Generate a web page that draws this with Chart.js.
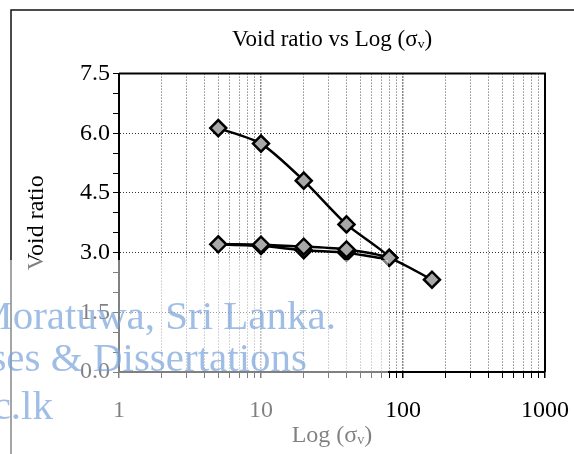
<!DOCTYPE html>
<html>
<head>
<meta charset="utf-8">
<script src="https://cdn.jsdelivr.net/npm/chart.js@4.4.1/dist/chart.umd.min.js"></script>
<style>
  html, body { margin: 0; padding: 0; background: #fff; }
  #wrap { width: 574px; height: 454px; position: relative; }
</style>
</head>
<body>
<div id="wrap"><canvas id="voidChart" width="574" height="454"></canvas></div>
<script>
// consolidation test: load 5 -> 80, unload to 5, reload to 80, then 160
const stress = [5, 10, 20, 40, 80, 40, 20, 10, 5, 10, 20, 40, 80, 160];
const voidRatio = [6.13, 5.74, 4.81, 3.71, 2.87, 3.0, 3.06, 3.17, 3.21, 3.2, 3.15, 3.08, 2.87, 2.32];

const xLabels = [1, 10, 100, 1000];
const yLabels = [0, 1.5, 3.0, 4.5, 6.0, 7.5];
const yMinorStep = 0.5;

const serif = "'Liberation Serif', 'Times New Roman', serif";

// minor positions on the log axis: 1..9 in each decade
const xTickValues = [];
for (let d = 1; d < 1000; d *= 10) {
  for (let k = 1; k < 10; k++) xTickValues.push(k * d);
}
xTickValues.push(1000);
const yTickValues = [];
for (let v = 0; v <= 7.5 + 1e-9; v += yMinorStep) yTickValues.push(Math.round(v * 10) / 10);

const isYMajor = (v) => yLabels.some((l) => Math.abs(l - v) < 1e-6);

const points = stress.map((s, i) => ({ x: s, y: voidRatio[i] }));

const framePlugin = {
  id: "frame",
  beforeDraw(chart) {
    const ctx = chart.ctx;
    ctx.save();
    ctx.strokeStyle = "#111";
    ctx.lineWidth = 1.5;
    ctx.beginPath();
    ctx.moveTo(11, 454);
    ctx.lineTo(11, 10);
    ctx.lineTo(574, 10);
    ctx.stroke();
    ctx.restore();
  },
  afterDatasetsDraw(chart) {
    const { ctx, chartArea } = chart;
    ctx.save();
    ctx.strokeStyle = "#000";
    ctx.lineWidth = 2;
    ctx.beginPath();
    ctx.moveTo(chartArea.left, chartArea.top);
    ctx.lineTo(chartArea.right, chartArea.top);
    ctx.lineTo(chartArea.right, chartArea.bottom);
    ctx.stroke();
    ctx.restore();
  },
  afterDraw(chart) {
    const ctx = chart.ctx;
    ctx.save();
    // faded box behind the watermark
    ctx.fillStyle = "rgba(255,255,255,0.5)";
    ctx.fillRect(0, 260, 388, 194);
    ctx.fillStyle = "rgba(120,162,218,0.7)";
    ctx.font = "41px " + serif;
    ctx.textAlign = "right";
    ctx.fillText("Moratuwa, Sri Lanka.", 336, 329);
    ctx.fillText("ses & Dissertations", 307, 371);
    ctx.fillText("c.lk", 53, 419);
    ctx.restore();
  },
};

const voidCtx = document.getElementById("voidChart").getContext("2d");
const voidChart = new Chart(voidCtx, {
  type: "scatter",
  data: {
    datasets: [
      {
        label: "Void ratio",
        data: points,
        showLine: true,
        tension: 0.25,
        borderColor: "#000",
        borderWidth: 2.5,
        pointStyle: "rectRot",
        pointRadius: 8,
        pointHoverRadius: 8,
        pointBackgroundColor: "#a8a8a8",
        pointBorderColor: "#000",
        pointBorderWidth: 2.5,
      },
    ],
  },
  options: {
    responsive: false,
    animation: false,
    devicePixelRatio: 1,
    layout: { padding: { left: 0, right: 29, top: 0, bottom: 0 } },
    plugins: {
      legend: { display: false },
      tooltip: { enabled: false },
      title: {
        display: true,
        fullSize: false,
        text: "Void ratio vs Log (σᵥ)",
        color: "#000",
        font: { family: serif, size: 23, weight: "normal" },
        padding: { top: 26, bottom: 20 },
      },
    },
    scales: {
      x: {
        type: "logarithmic",
        min: 1,
        max: 1000,
        afterBuildTicks: (axis) => {
          axis.ticks = xTickValues.map((v) => ({ value: v }));
        },
        afterFit: (axis) => {
          axis.height = 82;
          axis.paddingLeft = 0;
          axis.paddingRight = 0;
        },
        ticks: {
          autoSkip: false,
          maxRotation: 0,
          padding: 18,
          color: "#000",
          font: { family: serif, size: 24 },
          callback: (value) => (xLabels.includes(value) ? String(value) : ""),
        },
        grid: {
          color: (c) => (c.tick && xLabels.includes(c.tick.value) ? "#111" : "#555"),
          lineWidth: (c) => (c.tick && xLabels.includes(c.tick.value) ? 1.5 : 1),
          tickColor: "#000",
          tickLength: 6,
          tickBorderDash: [],
        },
        border: { display: true, color: "#000", width: 2, dash: [1, 2] },
        title: {
          display: true,
          text: "Log (σᵥ)",
          color: "#000",
          font: { family: serif, size: 24 },
          padding: { top: 0, bottom: 4 },
        },
      },
      y: {
        min: 0,
        max: 7.5,
        afterBuildTicks: (axis) => {
          axis.ticks = yTickValues.map((v) => ({ value: v }));
        },
        afterFit: (axis) => {
          axis.width = 119;
        },
        ticks: {
          autoSkip: false,
          padding: 3,
          color: "#000",
          font: { family: serif, size: 24 },
          callback: (value) => (isYMajor(value) ? value.toFixed(1) : ""),
        },
        grid: {
          color: (c) => (c.tick && isYMajor(c.tick.value) ? "#333" : "rgba(0,0,0,0)"),
          tickColor: "#000",
          tickLength: 6,
          tickBorderDash: [],
        },
        border: { display: true, color: "#000", width: 2, dash: [1, 2] },
        title: {
          display: true,
          text: "Void ratio",
          color: "#000",
          font: { family: serif, size: 24 },
          padding: { top: 22, bottom: 0 },
        },
      },
    },
  },
  plugins: [framePlugin],
});
</script>
</body>
</html>
